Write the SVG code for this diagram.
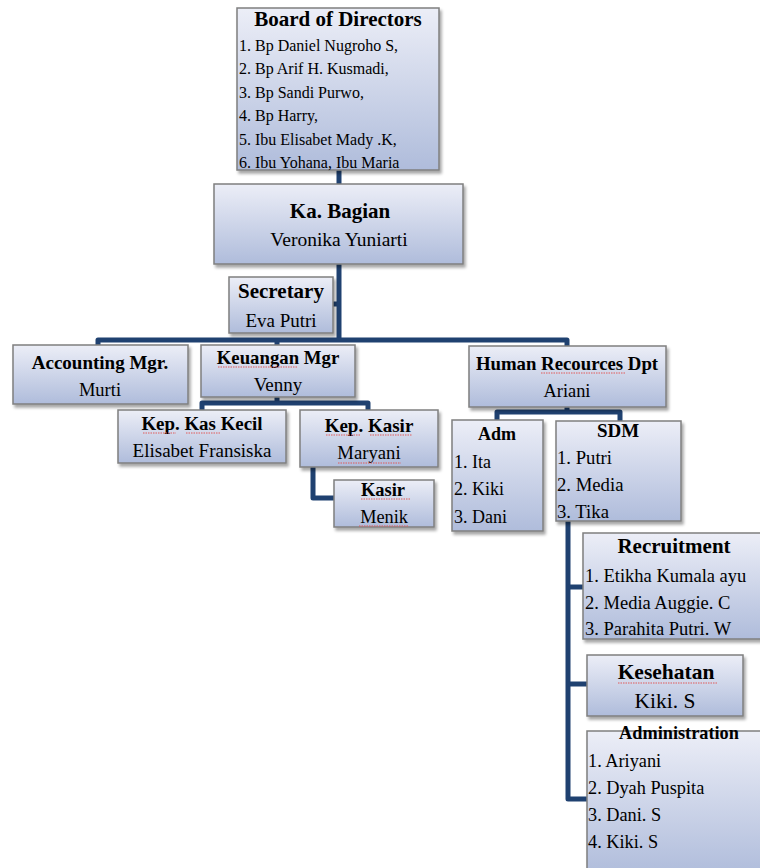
<svg xmlns="http://www.w3.org/2000/svg" width="760" height="868" viewBox="0 0 760 868">
<defs>
<linearGradient id="g" x1="0" y1="0" x2="0" y2="1">
<stop offset="0" stop-color="#eceef7"/>
<stop offset="1" stop-color="#afbcdb"/>
</linearGradient>
<filter id="sh" x="-10%" y="-10%" width="130%" height="130%">
<feDropShadow dx="2" dy="3" stdDeviation="1.5" flood-color="#000" flood-opacity="0.35"/>
</filter>
</defs>
<style>
.box{fill:url(#g);stroke:#7f7f7f;stroke-width:1.5;filter:url(#sh)}
.c{fill:none;stroke:#1f4170;stroke-width:5;stroke-linejoin:round;stroke-linecap:butt}
text{font-family:"Liberation Serif","Times New Roman",serif;fill:#000}
.t{font-weight:bold;text-anchor:middle}
.m{text-anchor:middle}
.sq{fill:none;stroke:#e05a5a;stroke-width:1;stroke-dasharray:1.5 1}
</style>
<rect width="760" height="868" fill="#fff"/>
<g id="connectors">
<path class="c" d="M339 170 V186"/>
<path class="c" d="M339 262 V340"/>
<path class="c" d="M331 304 H339"/>
<path class="c" d="M98 347 V340 H567 V348"/>
<path class="c" d="M277 340 V347"/>
<path class="c" d="M277 396 V403"/>
<path class="c" d="M202 412 V403 H368 V413"/>
<path class="c" d="M313 466 V498 H335"/>
<path class="c" d="M567 406 V412"/>
<path class="c" d="M497 422 V412 H620 V423"/>
<path class="c" d="M568 520 V799 H589"/>
<path class="c" d="M568 587 H585"/>
<path class="c" d="M568 684 H589"/>
</g>
<g id="board">
<rect class="box" x="237" y="8" width="202" height="162"/>
<text class="t" x="338" y="26" font-size="21">Board of Directors</text>
<text x="239" y="51" font-size="16">1. Bp Daniel Nugroho S,</text>
<text x="239" y="74" font-size="16">2. Bp Arif H. Kusmadi,</text>
<text x="239" y="98" font-size="16">3. Bp Sandi Purwo,</text>
<text x="239" y="121" font-size="16">4. Bp Harry,</text>
<text x="239" y="145" font-size="16">5. Ibu Elisabet Mady .K,</text>
<text x="239" y="168" font-size="16">6. Ibu Yohana, Ibu Maria</text>
</g>
<g id="kabagian">
<rect class="box" x="214" y="184" width="249" height="80"/>
<text class="t" x="340" y="218" font-size="21">Ka. Bagian</text>
<text class="m" x="339" y="246" font-size="19.5">Veronika Yuniarti</text>
</g>
<g id="secretary">
<rect class="box" x="229" y="277" width="104" height="56"/>
<text class="t" x="281" y="298" font-size="21">Secretary</text>
<text class="m" x="281" y="327" font-size="19">Eva Putri</text>
</g>
<g id="accounting">
<rect class="box" x="13" y="345" width="175" height="59"/>
<text class="t" x="100" y="369" font-size="19">Accounting Mgr.</text>
<text class="m" x="100" y="396" font-size="18.5">Murti</text>
</g>
<g id="keuangan">
<rect class="box" x="201" y="345" width="154" height="52"/>
<text class="t" x="278" y="364" font-size="18.8">Keuangan Mgr</text>
<path class="sq" d="M218 367 H298"/>
<text class="m" x="278" y="391" font-size="19">Venny</text>
</g>
<g id="kaskecil">
<rect class="box" x="118" y="410" width="168" height="53"/>
<text class="t" x="202" y="430" font-size="18.9">Kep. Kas Kecil</text>
<path class="sq" d="M143 433 H176 M186 433 H220"/>
<text class="m" x="202" y="457" font-size="19">Elisabet Fransiska</text>
</g>
<g id="kepkasir">
<rect class="box" x="300" y="410" width="138" height="57"/>
<text class="t" x="369" y="432" font-size="19">Kep. Kasir</text>
<path class="sq" d="M326 435 H360 M370 435 H412"/>
<text class="m" x="369" y="459" font-size="18.7">Maryani</text>
<path class="sq" d="M338 463 H401"/>
</g>
<g id="kasir">
<rect class="box" x="334" y="480" width="100" height="47"/>
<text class="t" x="383" y="496" font-size="18.5">Kasir</text>
<path class="sq" d="M361 499 H410"/>
<text class="m" x="384" y="523" font-size="18.3">Menik</text>
<path class="sq" d="M359 526 H409"/>
</g>
<g id="hr">
<rect class="box" x="469" y="346" width="197" height="61"/>
<text class="t" x="567" y="370" font-size="18.8">Human  Recources Dpt</text>
<path class="sq" d="M541 373 H625"/>
<text class="m" x="567" y="397" font-size="18.4">Ariani</text>
</g>
<g id="adm">
<rect class="box" x="452" y="420" width="91" height="111"/>
<text class="t" x="497" y="440" font-size="18">Adm</text>
<text x="454" y="468" font-size="18">1. Ita</text>
<text x="454" y="495" font-size="18">2. Kiki</text>
<text x="454" y="523" font-size="18">3. Dani</text>
</g>
<g id="sdm">
<rect class="box" x="556" y="421" width="125" height="100"/>
<text class="t" x="618" y="437" font-size="19">SDM</text>
<text x="557" y="464" font-size="18.7">1. Putri</text>
<text x="557" y="491" font-size="18.7">2. Media</text>
<text x="557" y="518" font-size="18.7">3. Tika</text>
</g>
<g id="recruitment">
<rect class="box" x="583" y="533" width="182" height="106"/>
<text class="t" x="674" y="553" font-size="21">Recruitment</text>
<text x="585" y="582" font-size="18.5">1. Etikha Kumala ayu</text>
<text x="585" y="609" font-size="18.5">2. Media Auggie. C</text>
<text x="585" y="635" font-size="18.5">3. Parahita Putri. W</text>
</g>
<g id="kesehatan">
<rect class="box" x="587" y="655" width="156" height="61"/>
<text class="t" x="666" y="679" font-size="21.5">Kesehatan</text>
<path class="sq" d="M618 683 H718"/>
<text class="m" x="665" y="708" font-size="21.5">Kiki. S</text>
</g>
<g id="administration">
<rect class="box" x="587" y="731" width="180" height="145"/>
<text class="t" x="679" y="739" font-size="18.3">Administration</text>
<text x="588" y="767" font-size="18.3">1. Ariyani</text>
<text x="588" y="794" font-size="18.3">2. Dyah Puspita</text>
<text x="588" y="821" font-size="18.3">3. Dani. S</text>
<text x="588" y="848" font-size="18.3">4. Kiki. S</text>
</g>
</svg>
